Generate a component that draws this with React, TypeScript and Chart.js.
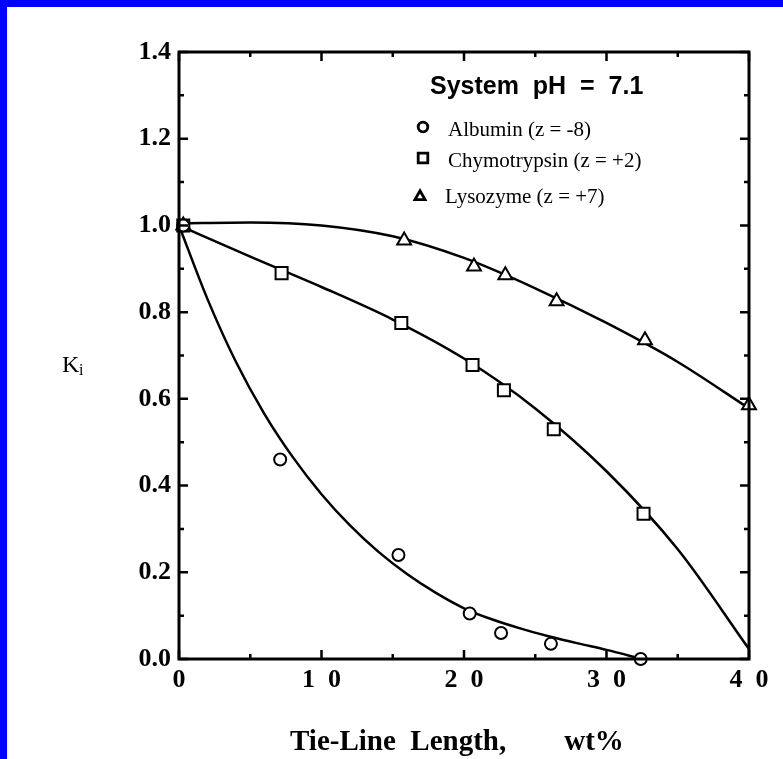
import React, { useEffect, useRef } from "react";
import { Chart, registerables } from "chart.js";
Chart.register(...registerables);

// ---- data ----
const albuminX = [0.3, 7.1, 15.4, 20.4, 22.6, 26.1, 32.4];
const albuminY = [1.0, 0.46, 0.24, 0.105, 0.06, 0.035, 0.0];
const chymoX = [0.3, 7.2, 15.6, 20.6, 22.8, 26.3, 32.6];
const chymoY = [1.0, 0.89, 0.775, 0.678, 0.62, 0.53, 0.335];
const lysoX = [0.3, 15.8, 20.7, 22.9, 26.5, 32.7, 40];
const lysoY = [1.0, 0.965, 0.905, 0.885, 0.825, 0.735, 0.585];

const albuminFitX = [0, 2, 4, 6, 8, 10, 12, 14, 16, 18, 20, 22, 24, 26, 28, 30, 32.5];
const albuminFitY = [1.0, 0.83, 0.685, 0.565, 0.465, 0.38, 0.308, 0.247, 0.196, 0.153, 0.117, 0.091, 0.07, 0.052, 0.036, 0.021, 0.0];
const chymoFitX = [0, 5, 10, 15, 20, 25, 30, 35, 40];
const chymoFitY = [1.0, 0.928, 0.858, 0.783, 0.693, 0.578, 0.433, 0.253, 0.023];
const lysoFitX = [0, 5, 10, 15, 20, 25, 30, 35, 40];
const lysoFitY = [1.005, 1.007, 1.0, 0.975, 0.925, 0.855, 0.775, 0.685, 0.578];

const xMajorTicks = [0, 10, 20, 30, 40];
const xMinorTicks = [5, 15, 25, 35];
const yMajorTicks = [0, 0.2, 0.4, 0.6, 0.8, 1.0, 1.2, 1.4];
const yMinorTicks = [0.1, 0.3, 0.5, 0.7, 0.9, 1.1, 1.3];

const legendTitle = "System  pH  =  7.1";
const seriesNames = ["Albumin (z = -8)", "Chymotrypsin (z = +2)", "Lysozyme (z = +7)"];
const seriesStyles = ["circle", "rect", "triangle"];
const xTitle = "Tie-Line  Length,        wt%";

const zip = (xs: number[], ys: number[]) => xs.map((x, i) => ({ x, y: ys[i] }));

function drawMarker(ctx: CanvasRenderingContext2D, style: string, x: number, y: number, r: number) {
  ctx.beginPath();
  if (style === "circle") {
    ctx.arc(x, y, r, 0, Math.PI * 2);
  } else if (style === "rect") {
    ctx.rect(x - r, y - r, 2 * r, 2 * r);
  } else {
    ctx.moveTo(x, y - r * 1.1);
    ctx.lineTo(x + r * 1.05, y + r * 0.75);
    ctx.lineTo(x - r * 1.05, y + r * 0.75);
    ctx.closePath();
  }
  ctx.fillStyle = "#fff";
  ctx.fill();
  ctx.stroke();
}

const decorPlugin = {
  id: "decor",
  beforeDraw(chart: any) {
    const ctx = chart.ctx;
    ctx.save();
    ctx.fillStyle = "#0000ff";
    ctx.fillRect(0, 0, chart.width, chart.height);
    ctx.fillStyle = "#ffffff";
    ctx.fillRect(7, 7, chart.width - 7, chart.height - 7);
    ctx.restore();
  },
  afterDraw(chart: any) {
    const ctx = chart.ctx;
    const { left, right, top, bottom } = chart.chartArea;
    const xs = chart.scales.x;
    const ys = chart.scales.y;
    ctx.save();
    ctx.strokeStyle = "#000";
    ctx.lineWidth = 3;
    ctx.strokeRect(left, top, right - left, bottom - top);
    ctx.lineWidth = 2.5;
    ctx.beginPath();
    const tick = (vals: number[], len: number) => {
      vals.forEach((v) => {
        const py = ys.getPixelForValue(v);
        ctx.moveTo(left, py);
        ctx.lineTo(left + len, py);
        ctx.moveTo(right, py);
        ctx.lineTo(right - len, py);
      });
    };
    tick(yMajorTicks, 9);
    tick(yMinorTicks, 5);
    const tickX = (vals: number[], len: number) => {
      vals.forEach((v) => {
        const px = xs.getPixelForValue(v);
        ctx.moveTo(px, bottom);
        ctx.lineTo(px, bottom - len);
        ctx.moveTo(px, top);
        ctx.lineTo(px, top + len);
      });
    };
    tickX(xMajorTicks, 9);
    tickX(xMinorTicks, 5);
    ctx.stroke();

    // legend
    ctx.fillStyle = "#000";
    ctx.textAlign = "left";
    ctx.textBaseline = "alphabetic";
    ctx.font = "bold 25px 'Liberation Sans'";
    ctx.fillText(legendTitle, 430, 94);
    ctx.font = "21px 'Liberation Serif'";
    const baselines = [136, 167, 203];
    const markerY = [127, 158, 196];
    const textX = [448, 448, 445];
    const markerX = [423, 423, 420];
    seriesNames.forEach((name, i) => {
      ctx.fillStyle = "#000";
      ctx.fillText(name, textX[i], baselines[i]);
      ctx.lineWidth = 2.8;
      drawMarker(ctx, seriesStyles[i], markerX[i], markerY[i], 4.8);
      ctx.fillStyle = "#000";
    });

    // y title K_i
    ctx.fillStyle = "#000";
    ctx.font = "24px 'Liberation Serif'";
    ctx.fillText("K", 62, 372);
    ctx.font = "16px 'Liberation Serif'";
    ctx.fillText("i", 79, 375);

    // x title
    ctx.font = "bold 29px 'Liberation Serif'";
    ctx.fillText(xTitle, 290, 750);
    ctx.restore();
  },
};

export default function App() {
  const ref = useRef<HTMLCanvasElement>(null);
  useEffect(() => {
    if (!ref.current) return;
    const lineDs = (data: any[]) => ({
      type: "line" as const,
      data,
      borderColor: "#000",
      borderWidth: 2.5,
      pointRadius: 0,
      fill: false,
      cubicInterpolationMode: "monotone" as const,
      order: 2,
    });
    const ptDs = (data: any[], style: string, r: number) => ({
      type: "scatter" as const,
      data,
      pointStyle: style,
      pointRadius: r,
      pointBorderWidth: 2,
      borderColor: "#000",
      backgroundColor: "#fff",
      clip: false as any,
      order: 1,
    });
    const chart = new Chart(ref.current, {
      type: "scatter",
      data: {
        datasets: [
          lineDs(zip(albuminFitX, albuminFitY)),
          lineDs(zip(chymoFitX, chymoFitY)),
          lineDs(zip(lysoFitX, lysoFitY)),
          ptDs(zip(albuminX, albuminY), "circle", 6),
          ptDs(zip(chymoX, chymoY), "rect", 8.5),
          ptDs(zip(lysoX, lysoY), "triangle", 8),
        ] as any,
      },
      options: {
        animation: false,
        responsive: false,
        layout: { padding: { top: 52, right: 34, left: 0, bottom: 0 } },
        plugins: { legend: { display: false }, tooltip: { enabled: false } },
        scales: {
          x: {
            type: "linear",
            min: 0,
            max: 40,
            afterFit: (s: any) => {
              s.height = 100;
            },
            afterBuildTicks: (s: any) => {
              s.ticks = xMajorTicks.map((v) => ({ value: v }));
            },
            grid: { display: false, drawTicks: false },
            border: { display: false },
            ticks: {
              padding: 6,
              color: "#000",
              font: { family: "'Liberation Serif'", size: 26, weight: "bold" },
              callback: (v: any) => String(v).split("").join("  "),
              maxRotation: 0,
            },
          },
          y: {
            type: "linear",
            min: 0,
            max: 1.4,
            afterFit: (s: any) => {
              s.width = 179;
            },
            afterBuildTicks: (s: any) => {
              s.ticks = yMajorTicks.map((v) => ({ value: v }));
            },
            grid: { display: false, drawTicks: false },
            border: { display: false },
            ticks: {
              padding: 8,
              color: "#000",
              font: { family: "'Liberation Serif'", size: 26, weight: "bold" },
              callback: (v: any) => Number(v).toFixed(1),
            },
          },
        },
      },
      plugins: [decorPlugin],
    });
    return () => chart.destroy();
  }, []);
  return (
    <div style={{ position: "fixed", left: 0, top: 0, width: 783, height: 759 }}>
      <canvas ref={ref} width={783} height={759} style={{ display: "block" }} />
    </div>
  );
}
